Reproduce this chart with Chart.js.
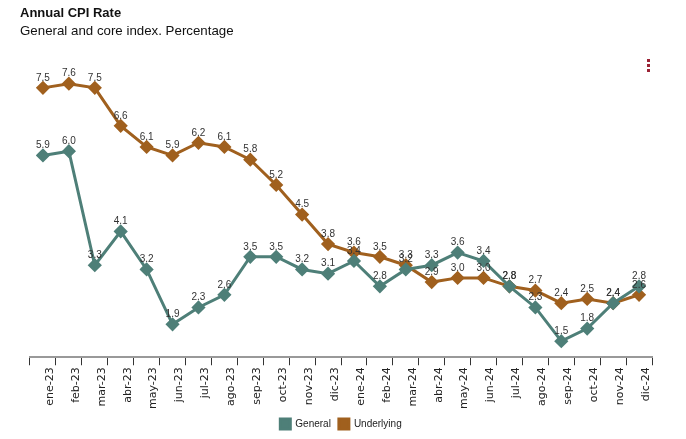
<!DOCTYPE html>
<html>
<head>
<meta charset="utf-8">
<script src="https://cdn.jsdelivr.net/npm/chart.js@4.4.0/dist/chart.umd.min.js"></script>
<style>
  body { margin: 0; background: #fff; font-family: "Liberation Sans", Arial, sans-serif; }
  #wrap { position: relative; width: 686px; height: 439px; }
  #title { position: absolute; left: 20px; top: 5px; font-size: 13px; font-weight: bold; color: #111; }
  #subtitle { position: absolute; left: 20px; top: 23px; font-size: 13.3px; color: #111; }
  #menu { position: absolute; left: 647px; top: 59px; width: 3px; }
  #menu span { display: block; width: 3px; height: 3px; background: #9b2335; margin-bottom: 2px; }
  canvas { position: absolute; left: 0; top: 0; }
</style>
</head>
<body>
<div id="wrap">
  <canvas id="cpiChart" width="686" height="439"></canvas>
  <div id="title">Annual CPI Rate</div>
  <div id="subtitle">General and core index. Percentage</div>
  <div id="menu"><span></span><span></span><span></span></div>
</div>
<script>
// months shown on the x axis
const months = [
  "ene-23", "feb-23", "mar-23", "abr-23", "may-23", "jun-23",
  "jul-23", "ago-23", "sep-23", "oct-23", "nov-23", "dic-23",
  "ene-24", "feb-24", "mar-24", "abr-24", "may-24", "jun-24",
  "jul-24", "ago-24", "sep-24", "oct-24", "nov-24", "dic-24",
];

const generalCpi = [5.9, 6.0, 3.3, 4.1, 3.2, 1.9, 2.3, 2.6, 3.5, 3.5, 3.2, 3.1,
  3.4, 2.8, 3.2, 3.3, 3.6, 3.4, 2.8, 2.3, 1.5, 1.8, 2.4, 2.8];

const underlyingCpi = [7.5, 7.6, 7.5, 6.6, 6.1, 5.9, 6.2, 6.1, 5.8, 5.2, 4.5, 3.8,
  3.6, 3.5, 3.3, 2.9, 3.0, 3.0, 2.8, 2.7, 2.4, 2.5, 2.4, 2.6];

// draws the value above each point
const pointLabels = {
  id: "pointLabels",
  afterDatasetsDraw(chart) {
    const ctx = chart.ctx;
    ctx.save();
    ctx.font = "10px 'Liberation Sans', Arial, sans-serif";
    ctx.fillStyle = "#333";
    ctx.textAlign = "center";
    ctx.textBaseline = "bottom";
    chart.data.datasets.forEach((ds, i) => {
      chart.getDatasetMeta(i).data.forEach((pt, j) => {
        ctx.fillText(ds.data[j].toFixed(1), pt.x, pt.y - 5);
      });
    });
    ctx.restore();
  },
};

new Chart("cpiChart", {
  type: "line",
  data: {
    labels: months,
    datasets: [
      {
        label: "General",
        data: generalCpi,
        borderColor: "#4e7f78",
        backgroundColor: "#4e7f78",
        borderWidth: 3,
        pointStyle: "rectRot",
        pointRadius: 5,
        pointHoverRadius: 5,
        tension: 0,
      },
      {
        label: "Underlying",
        data: underlyingCpi,
        borderColor: "#a0601e",
        backgroundColor: "#a0601e",
        borderWidth: 3,
        pointStyle: "rectRot",
        pointRadius: 5,
        pointHoverRadius: 5,
        tension: 0,
      },
    ],
  },
  options: {
    responsive: false,
    animation: false,
    layout: { padding: { top: 60, left: 30, right: 34, bottom: 0 } },
    scales: {
      x: {
        offset: true,
        grid: { drawOnChartArea: false, tickLength: 8, color: "#333", offset: true },
        border: { color: "#999", width: 2 },
        ticks: {
          maxRotation: 90,
          minRotation: 90,
          padding: 2,
          labelOffset: 7,
          color: "#222",
          font: { size: 11, family: "'DejaVu Sans', Verdana, sans-serif" },
        },
      },
      y: {
        display: false,
        min: 1.12,
        max: 8.16,
      },
    },
    plugins: {
      legend: {
        position: "bottom",
        labels: {
          boxWidth: 10,
          boxHeight: 10,
          padding: 8,
          color: "#222",
          font: { size: 10, family: "'Liberation Sans', Arial, sans-serif" },
        },
      },
      tooltip: { enabled: false },
    },
  },
  plugins: [pointLabels],
});
</script>
</body>
</html>
